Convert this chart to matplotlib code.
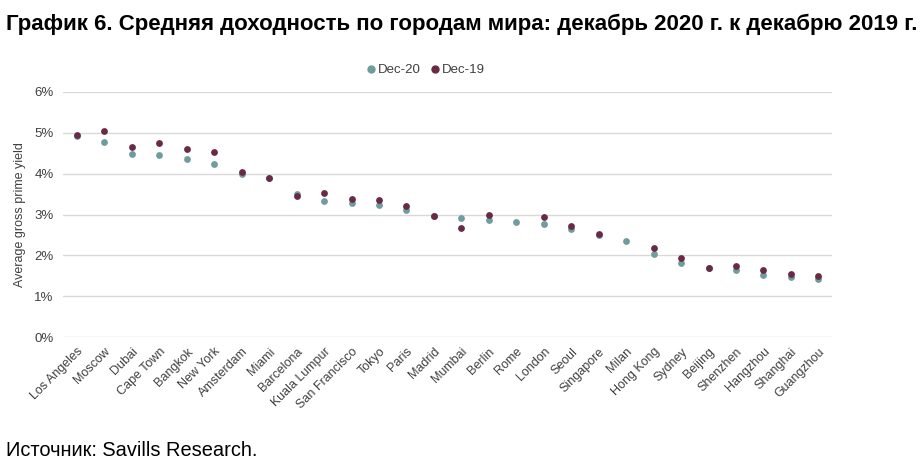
import numpy as np
import matplotlib.pyplot as plt
from matplotlib.lines import Line2D

cities = ['Los Angeles', 'Moscow', 'Dubai', 'Cape Town', 'Bangkok', 'New York',
          'Amsterdam', 'Miami', 'Barcelona', 'Kuala Lumpur', 'San Francisco',
          'Tokyo', 'Paris', 'Madrid', 'Mumbai', 'Berlin', 'Rome', 'London',
          'Seoul', 'Singapore', 'Milan', 'Hong Kong', 'Sydney', 'Beijing',
          'Shenzhen', 'Hangzhou', 'Shanghai', 'Guangzhou']

# доходность, %
dec20 = [4.92, 4.78, 4.49, 4.45, 4.35, 4.24, 4.00, 3.89, 3.49, 3.32,
         3.28, 3.23, 3.10, 2.97, 2.92, 2.87, 2.82, 2.77, 2.64, 2.51,
         2.35, 2.04, 1.82, 1.70, 1.64, 1.53, 1.47, 1.43]
dec19 = [4.93, 5.03, 4.65, 4.74, 4.59, 4.53, 4.05, 3.88, 3.46, 3.53,
         3.37, 3.36, 3.21, 2.97, 2.68, 2.98, np.nan, 2.95, 2.71, 2.53,
         np.nan, 2.17, 1.94, 1.70, 1.74, 1.65, 1.55, 1.50]

yticks = [0, 1, 2, 3, 4, 5, 6]

c20 = '#6f9c9f'
c19 = '#6a2a45'
txt = '#404040'

plt.rcParams['font.family'] = ['Liberation Sans', 'DejaVu Sans']

fig = plt.figure(figsize=(9.24, 4.70), dpi=100)
ax = fig.add_axes([0.0685, 0.2823, 0.8320, 0.5226])

x = np.arange(len(cities))
ax.scatter(x, dec20, s=24, color=c20, zorder=3, linewidths=0)
ax.scatter(x, dec19, s=24, color=c19, zorder=4, linewidths=0)

ax.set_xlim(-0.5, len(cities) - 0.5)
ax.set_ylim(0, 6)
ax.set_yticks(yticks)
ax.set_yticklabels([f'{v}%' for v in yticks], fontsize=9.5, color=txt)
ax.grid(axis='y', color='#d9d9d9', linewidth=1)
ax.set_axisbelow(True)
for s in ax.spines.values():
    s.set_visible(False)
ax.tick_params(axis='both', length=0)
ax.tick_params(axis='y', pad=7)

ax.set_xticks(x)
ax.set_xticklabels(cities, rotation=45, ha='right', rotation_mode='anchor',
                   fontsize=9, color=txt)
ax.tick_params(axis='x', pad=6)

ax.set_ylabel('Average gross prime yield', fontsize=9, color=txt, labelpad=6)

handles = [Line2D([], [], marker='o', linestyle='', color=c20, markersize=5, label='Dec-20'),
           Line2D([], [], marker='o', linestyle='', color=c19, markersize=5, label='Dec-19')]
fig.legend(handles=handles, loc='center', bbox_to_anchor=(0.461, 0.851), ncol=2,
           frameon=False, fontsize=9.5, handlelength=0.6, handletextpad=0.2,
           columnspacing=0.8, labelcolor=txt)

fig.text(0.006, 0.949, 'График 6. Средняя доходность по городам мира: декабрь 2020 г. к декабрю 2019 г.',
         fontsize=16, fontweight='bold', va='center', ha='left')
fig.text(0.006, 0.042, 'Источник: Savills Research.', fontsize=14.4, va='center', ha='left')

fig.savefig('out.png', dpi=100)
